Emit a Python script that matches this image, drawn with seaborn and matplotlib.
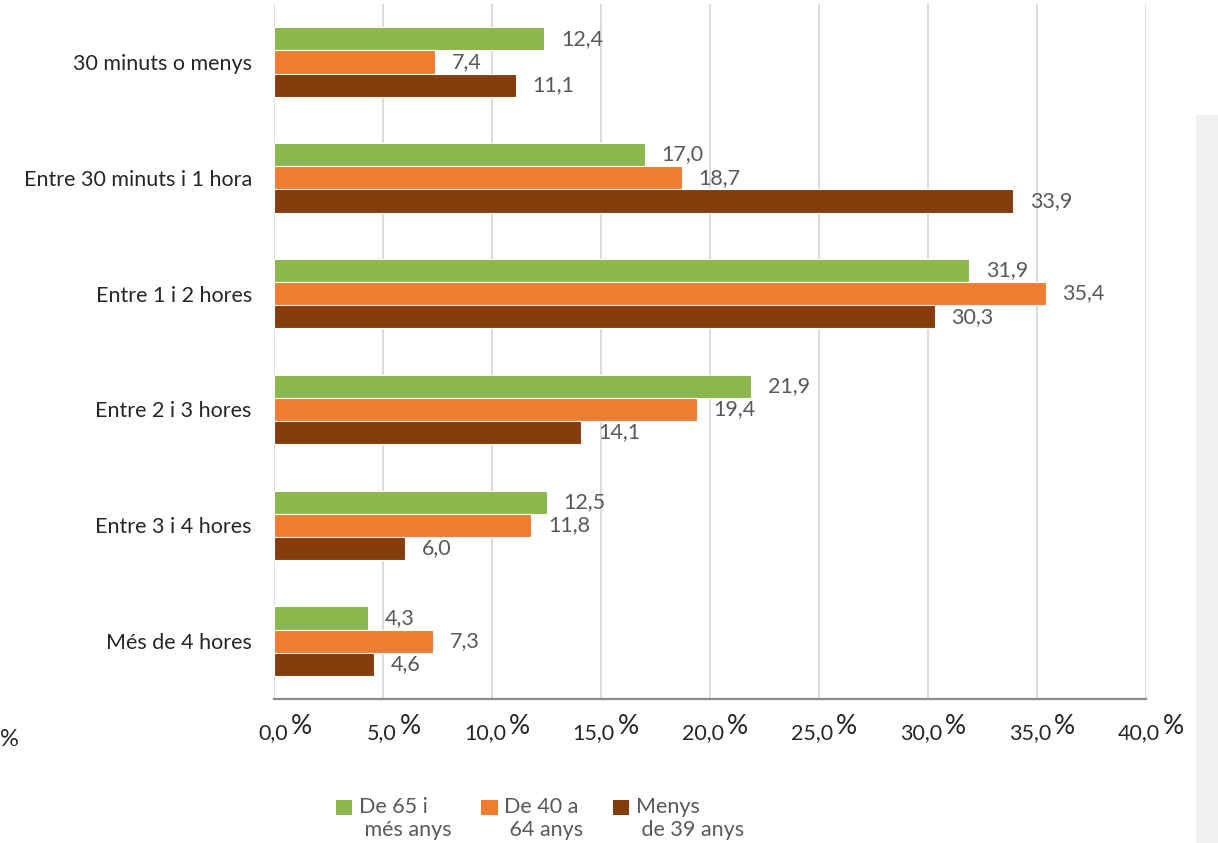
import matplotlib
matplotlib.use("Agg")
import matplotlib.pyplot as plt
import matplotlib.patches as mpatches
import seaborn as sns
import pandas as pd

categories = ["30 minuts o menys", "Entre 30 minuts i 1 hora", "Entre 1 i 2 hores",
              "Entre 2 i 3 hores", "Entre 3 i 4 hores", "Més de 4 hores"]
series_names = ["De 65 i\n més anys", "De 40 a\n 64 anys", "Menys\n de 39 anys"]
vals_65 = [12.4, 17.0, 31.9, 21.9, 12.5, 4.3]
vals_40 = [7.4, 18.7, 35.4, 19.4, 11.8, 7.3]
vals_39 = [11.1, 33.9, 30.3, 14.1, 6.0, 4.6]
colors = ["#8BB74C", "#ED7D31", "#843C0C"]
tick_values = [0, 5, 10, 15, 20, 25, 30, 35, 40]
tick_labels = ["0,0", "5,0", "10,0", "15,0", "20,0", "25,0", "30,0", "35,0", "40,0"]

rows = []
for name, vals in zip(series_names, [vals_65, vals_40, vals_39]):
    for c, v in zip(categories, vals):
        rows.append({"cat": c, "serie": name, "val": v})
df = pd.DataFrame(rows)

sns.set_style("white")
plt.rcParams['font.family'] = ['Lato', 'DejaVu Sans']

FS = 15.5
fig = plt.figure(figsize=(12.18, 8.43), dpi=100)
ax = fig.add_axes([274/1218, 1 - 699/843, (1146-274)/1218, (699-4)/843])

sns.barplot(data=df, y="cat", x="val", hue="serie", order=categories,
            hue_order=series_names, palette=colors, saturation=1, orient="h", width=0.6,
            ax=ax, edgecolor="white", linewidth=0.8, zorder=3, legend=True)

ax.set_xlim(0, 40)
ax.set_ylim(len(categories) - 0.5, -0.5)
ax.set_xticks(tick_values)
ax.set_xticklabels([""] * len(tick_values))
ax.tick_params(axis="x", length=0)
ax.tick_params(axis="y", length=0, pad=16, labelsize=FS, labelcolor="#262626")
ax.set_xlabel("")
ax.set_ylabel("")
ax.grid(axis="x", color="#d9d9d9", linewidth=1.3, zorder=0)
ax.set_axisbelow(True)
for s in ["top", "right", "left"]:
    ax.spines[s].set_visible(False)
ax.spines["bottom"].set_color("#8c8c8c")
ax.spines["bottom"].set_linewidth(1.6)

# tick labels with enlarged percent sign
for v, lab in zip(tick_values, tick_labels):
    ax.annotate(lab, xy=(v, 0), xycoords=("data", "axes fraction"),
                xytext=(10, -24.5), textcoords="offset points",
                ha="right", va="center", fontsize=FS, color="#262626")
    ax.annotate("%", xy=(v, 0), xycoords=("data", "axes fraction"),
                xytext=(12, -20), textcoords="offset points",
                ha="left", va="center", fontsize=19, color="#262626")

# value labels
for container in ax.containers:
    labels = [f"{b.get_width():.1f}".replace(".", ",") for b in container]
    ax.bar_label(container, labels=labels, padding=12, fontsize=FS, color="#595959")

# legend
handles = [mpatches.Patch(facecolor=c, edgecolor="none") for c in colors]
leg = ax.legend(handles, series_names, loc="upper center", ncol=3, frameon=False, fontsize=FS,
                labelcolor="#595959", handlelength=0.75, handleheight=0.75, handletextpad=0.3,
                columnspacing=1.4, borderaxespad=0,
                bbox_to_anchor=(540/1218, 1 - 788/843), bbox_transform=fig.transFigure)
for h in leg.legend_handles:
    h.set_y(h.get_y() + 8)

# stray percent sign at far left
fig.text(0, 1 - 740/843, "%", fontsize=17, color="#262626", ha="left", va="center")

# faint background artefact at right edge
fig.patches.append(mpatches.Rectangle((1196/1218, 0), 22/1218, 1 - 115/843,
                                      transform=fig.transFigure, facecolor="#f1f1f1",
                                      edgecolor="none", zorder=0))

fig.savefig("out.png", dpi=100)
